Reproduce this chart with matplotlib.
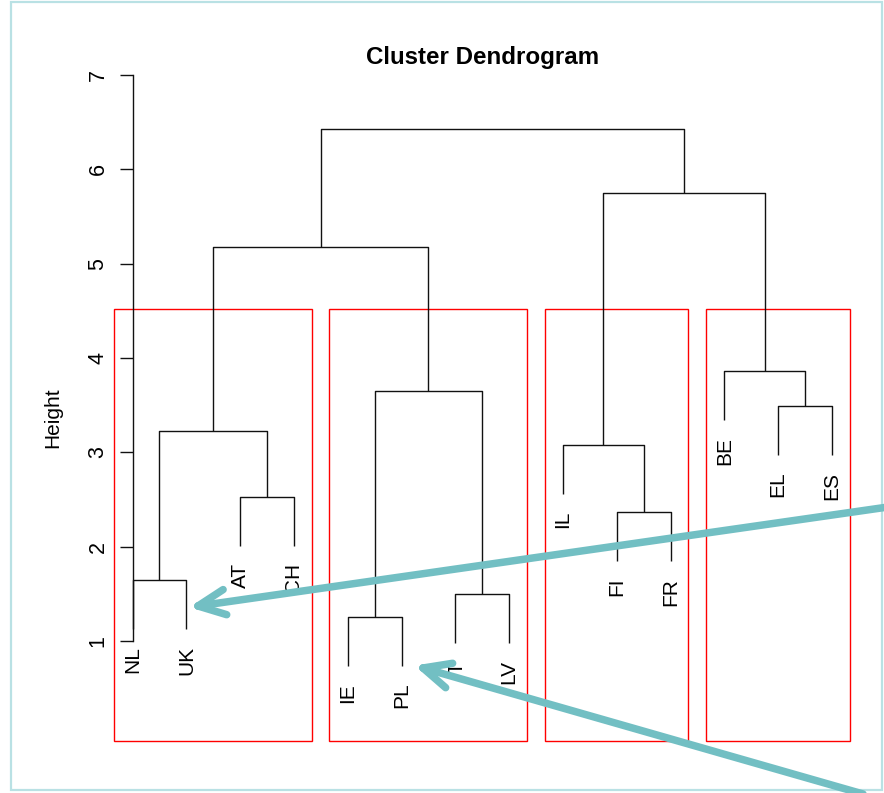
import numpy as np
import matplotlib
matplotlib.use("Agg")
import matplotlib.pyplot as plt
from matplotlib.lines import Line2D
from matplotlib.patches import Rectangle

# ---------------- data ----------------
labels = ["NL", "UK", "AT", "CH", "IE", "PL", "IT", "LV", "IL", "FI", "FR", "BE", "EL", "ES"]
# R-style merge matrix: negative = leaf (1-based), positive = earlier merge (1-based)
merge_left = [-5, -7, -1, -10, -3, -9, 3, -13, 1, -12, 7, 6, 11]
merge_right = [-6, -8, -2, -11, -4, 4, 5, -14, 2, 8, 9, 10, 12]
merge_height = [1.254, 1.498, 1.647, 2.368, 2.527, 3.078, 3.226, 3.491, 3.650, 3.862, 5.177, 5.749, 6.428]
hang = 0.52
cluster_sizes = [4, 4, 3, 3]
yticks = [1, 2, 3, 4, 5, 6, 7]

W, H = 884, 793
fig = plt.figure(figsize=(W / 100, H / 100), dpi=100)
FONT = "Liberation Sans"

# axes placement (pixels)
x0_px, x1_px = 104.6, 860.0
y_top_px, y_bot_px = 70.3, 741.0
ax = fig.add_axes([x0_px / W, 1 - y_bot_px / H, (x1_px - x0_px) / W, (y_bot_px - y_top_px) / H])
ax.set_xlim(0.48, 14.52)
ax.set_ylim(-0.06, 7.05)

# leaf positions in the dendrogram order (leaf i at x=i)
leaf_x = {i + 1: float(i + 1) for i in range(len(labels))}
node_x = {}
lc = "#111111"
lw = 1.0
for k, (l, r, h) in enumerate(zip(merge_left, merge_right, merge_height), start=1):
    xs, ys = [], []
    for c in (l, r):
        if c < 0:
            xs.append(leaf_x[-c])
            ys.append(h - hang)
        else:
            xs.append(node_x[c])
            ys.append(merge_height[c - 1])
    node_x[k] = (xs[0] + xs[1]) / 2
    ax.plot([xs[0], xs[0], xs[1], xs[1]], [ys[0], h, h, ys[1]], color=lc, lw=lw,
            solid_capstyle="butt", clip_on=False)
    for c, xx, yy in zip((l, r), xs, ys):
        if c < 0:
            ax.annotate(labels[-c - 1], (xx, yy), xytext=(0, -12), textcoords="offset points",
                        rotation=90, ha="center", va="top", fontsize=15, family=FONT,
                        annotation_clip=False)

# rect.hclust style boxes (k = 4)
sorted_h = sorted(merge_height, reverse=True)
k = len(cluster_sizes)
rect_top = (sorted_h[k - 2] + sorted_h[k - 1]) / 2
bounds = np.concatenate([[0], np.cumsum(cluster_sizes)])
for i in range(k):
    left = bounds[i] + 0.66
    right = bounds[i + 1] + 0.33
    bottom = ax.get_ylim()[0]
    ax.add_patch(Rectangle((left, bottom), right - left, rect_top - bottom, fill=False,
                           edgecolor="#FF0000", lw=1.0, clip_on=False))

# axes styling: only a left axis at x=1 between 1 and 7
for s in ["top", "right", "bottom"]:
    ax.spines[s].set_visible(False)
ax.spines["left"].set_position(("data", 1))
ax.spines["left"].set_bounds(1, 7)
ax.spines["left"].set_linewidth(1.0)
ax.spines["left"].set_color(lc)
ax.set_xticks([])
ax.set_yticks(yticks)
ax.set_yticklabels([str(t) for t in yticks], rotation=90, va="center", fontsize=15.5, family=FONT)
ax.tick_params(axis="y", length=9.4, width=1.0, pad=8, color=lc)
ax.patch.set_alpha(0)

# title and y label
fig.text(482.5 / W, 1 - 64 / H, "Cluster Dendrogram", ha="center", va="baseline",
         fontsize=17.4, fontweight="bold", family=FONT)
fig.text(53 / W, 1 - 418 / H, "Height", rotation=90, ha="center", va="center",
         fontsize=15, family=FONT)

# figure border
fig.patches.append(Rectangle((11 / W, 1 - 790 / H), (882 - 11) / W, (790 - 2) / H,
                             transform=fig.transFigure, fill=False, edgecolor="#B9E1E4", lw=1.6))

# teal arrows (annotations in pixel space)
teal = "#72BFC3"


def px(x, y):
    return x / W, 1 - y / H


def arrow(tail, tip, head_len=30, ang=25):
    tx, ty = tail
    hx, hy = tip
    d = np.array([tx - hx, ty - hy], dtype=float)
    d /= np.hypot(*d)
    pts = [tail, tip]
    fig.lines.append(Line2D(*zip(*[px(*p) for p in pts]), transform=fig.transFigure,
                            color=teal, lw=5.4, solid_capstyle="round"))
    for sgn in (1, -1):
        a = np.deg2rad(sgn * ang)
        rot = np.array([[np.cos(a), -np.sin(a)], [np.sin(a), np.cos(a)]])
        b = rot @ d * head_len
        end = (hx + b[0], hy + b[1])
        fig.lines.append(Line2D(*zip(px(hx, hy), px(*end)), transform=fig.transFigure,
                                color=teal, lw=5.4, solid_capstyle="round",
                                solid_joinstyle="round"))


arrow((895, 506), (198, 606))
arrow((870, 796), (423, 668))

fig.savefig("out.png", dpi=100)
